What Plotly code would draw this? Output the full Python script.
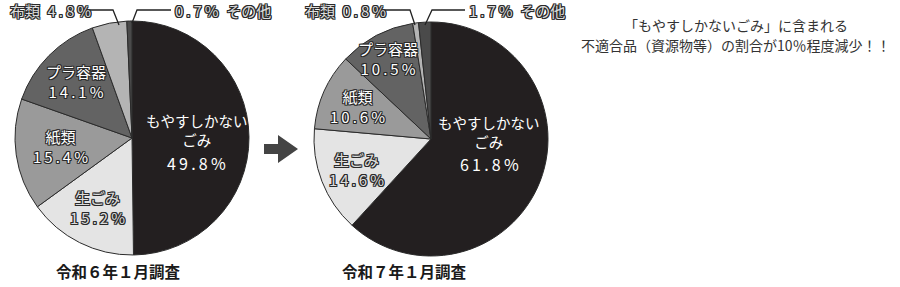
import plotly.graph_objects as go

W, H = 900, 287

categories = ["もやすしかないごみ", "生ごみ", "紙類", "プラ容器", "布類", "その他"]
values_r6 = [49.8, 15.2, 15.4, 14.1, 4.8, 0.7]
values_r7 = [61.8, 14.6, 10.6, 10.5, 0.8, 1.7]
captions = ["令和６年１月調査", "令和７年１月調査"]
note_lines = ["「もやすしかないごみ」に含まれる", "不適合品（資源物等）の割合が10％程度減少！！"]
colors = ["#231f20", "#e4e4e4", "#9a9a9a", "#636363", "#b4b4b4", "#4a4a4a"]

FONT = "Noto Sans CJK JP"
TS = "\u2009"
EN = "\u2002"


def px(x):
    return x / W


def py(y):
    return 1 - y / H


OUT = ("-1px -1px 0 #2a2a2a, 1px -1px 0 #2a2a2a, -1px 1px 0 #2a2a2a, 1px 1px 0 #2a2a2a, "
       "0 1px 0 #2a2a2a, 0 -1px 0 #2a2a2a, 1px 0 0 #2a2a2a, -1px 0 0 #2a2a2a")

fig = go.Figure()

pies = [
    (values_r6, [15, 249], [21, 255]),
    (values_r7, [314, 548], [22, 256]),
]
for vals, dx, dy in pies:
    fig.add_trace(go.Pie(
        labels=categories, values=vals, sort=False, direction="clockwise",
        rotation=0, textinfo="none", showlegend=False,
        marker=dict(colors=colors, line=dict(color="#2b2b2b", width=1)),
        domain=dict(x=[px(dx[0]), px(dx[1])], y=[py(dy[1]), py(dy[0])]),
    ))

ann = []


def txt(x, y, s, color="white", size=14, shadow=None, xanchor="center", weight="normal"):
    f = dict(family=FONT, size=size, color=color, weight=weight)
    if shadow:
        f["shadow"] = shadow
    ann.append(dict(x=px(x), y=py(y), xref="paper", yref="paper", text=s,
                    showarrow=False, xanchor=xanchor, yanchor="middle", font=f))


def pct(v):
    return TS.join(f"{v:.1f}%")


def pair(label, v):
    return f"{label}<br>{pct(v)}"


LIGHT = "#dcdcdc"

# Pie 1 labels
txt(197, 130, "もやすしかない<br>ごみ", size=14.5)
txt(196, 163, pct(values_r6[0]), size=16)
txt(97, 207, pair(categories[1], values_r6[1]), color=LIGHT, shadow=OUT, size=15)
txt(60, 146, pair(categories[2], values_r6[2]), shadow=OUT, size=15)
txt(76, 81, pair(categories[3], values_r6[3]), shadow=OUT, size=15)
txt(8, 10, f"{categories[4]}{EN}{pct(values_r6[4])}", color=LIGHT, shadow=OUT, xanchor="left", size=15)
txt(173, 10, f"{pct(values_r6[5])}{EN}{categories[5]}", color=LIGHT, shadow=OUT, xanchor="left", size=15)

# Pie 2 labels
txt(489, 132, "もやすしかない<br>ごみ", size=14.5)
txt(490, 164, pct(values_r7[0]), size=16)
txt(356, 169, pair(categories[1], values_r7[1]), color=LIGHT, shadow=OUT, size=15)
txt(357, 106, pair(categories[2], values_r7[2]), shadow=OUT, size=15)
txt(388, 58, pair(categories[3], values_r7[3]), shadow=OUT, size=15)
txt(303, 10, f"{categories[4]}{EN}{pct(values_r7[4])}", color=LIGHT, shadow=OUT, xanchor="left", size=15)
txt(467, 10, f"{pct(values_r7[5])}{EN}{categories[5]}", color=LIGHT, shadow=OUT, xanchor="left", size=15)

# captions
txt(118, 271, captions[0], color="#1a1a1a", size=15.5, weight="bold")
txt(404, 271, captions[1], color="#1a1a1a", size=15.5, weight="bold")

# note
txt(736, 25, note_lines[0], color="#333333", size=14)
txt(736, 45, note_lines[1], color="#333333", size=14)

fig.update_layout(annotations=ann)

shapes = []


def poly(points):
    d = "M " + " L ".join(f"{px(x)},{py(y)}" for x, y in points)
    shapes.append(dict(type="path", xref="paper", yref="paper", path=d,
                       line=dict(color="#222", width=1.3)))


# leader lines
poly([(86, 10), (113, 10), (119, 25)])
poly([(171, 10), (137, 10), (132, 23)])
poly([(383, 10), (410, 10), (415, 25)])
poly([(465, 10), (432, 10), (425, 25)])

# arrow
arrow = [(264, 144), (278, 144), (278, 135), (298, 149), (278, 163), (278, 154), (264, 154)]
d = "M " + " L ".join(f"{px(x)},{py(y)}" for x, y in arrow) + " Z"
shapes.append(dict(type="path", xref="paper", yref="paper", path=d,
                   fillcolor="#444444", line=dict(width=0)))

fig.update_layout(
    shapes=shapes,
    width=W, height=H,
    margin=dict(l=0, r=0, t=0, b=0),
    paper_bgcolor="white", plot_bgcolor="white",
)

fig.write_html("out.html")
